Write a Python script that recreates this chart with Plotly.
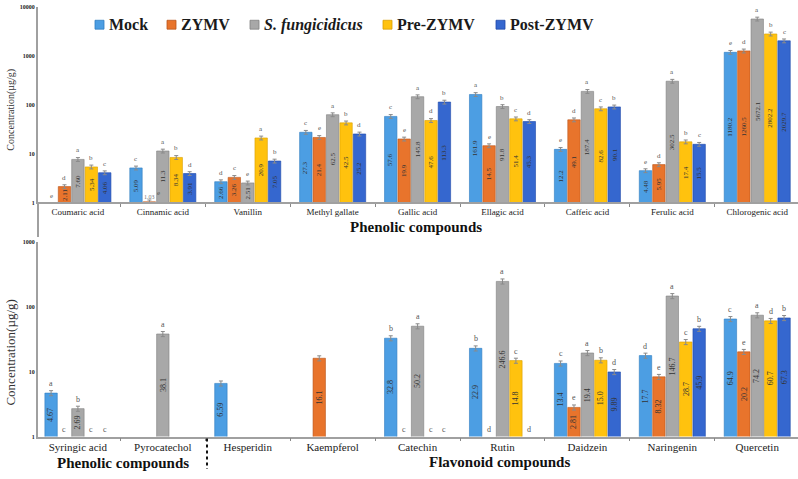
import plotly.graph_objects as go
import math

series = ["Mock", "ZYMV", "<i>S. fungicidicus</i>", "Pre-ZYMV", "Post-ZYMV"]
colors = ["#4C9EE3", "#E8742C", "#A8A8A8", "#FFC20E", "#3567CF"]
edge = ["#2F7CC0", "#B9541A", "#808080", "#D9A000", "#1F48A8"]

top_cats = ["Coumaric acid", "Cinnamic acid", "Vanillin", "Methyl gallate", "Gallic acid",
            "Ellagic acid", "Caffeic acid", "Ferulic acid", "Chlorogenic acid"]
top_vals = [
    [None, 5.09, 2.66, 27.3, 57.6, 161.9, 12.2, 4.48, 1180.2],
    [2.11, 1.03, 3.26, 21.4, 19.9, 14.5, 49.1, 5.95, 1260.5],
    [7.60, 11.3, 2.51, 62.5, 145.8, 91.8, 187.4, 302.5, 5672.1],
    [5.34, 8.34, 20.9, 42.5, 47.6, 51.4, 82.6, 17.4, 2802.2],
    [4.06, 3.91, 7.05, 25.2, 113.3, 45.3, 90.1, 15.5, 2029.7],
]
top_letters = [
    ["e", "c", "d", "c", "c", "a", "e", "e", "e"],
    ["d", "e", "c", "e", "e", "e", "d", "d", "d"],
    ["a", "a", "e", "a", "a", "b", "a", "a", "a"],
    ["b", "b", "a", "b", "d", "c", "c", "b", "b"],
    ["c", "d", "b", "d", "b", "d", "b", "c", "c"],
]

bot_cats = ["Syringic acid", "Pyrocatechol", "Hesperidin", "Kaempferol", "Catechin",
            "Rutin", "Daidzein", "Naringenin", "Quercetin"]
bot_vals = [
    [4.67, None, 6.59, None, 32.8, 22.9, 13.4, 17.7, 64.9],
    [None, None, None, 16.1, None, None, 2.81, 8.32, 20.2],
    [2.69, 38.1, None, None, 50.2, 246.6, 19.4, 146.7, 74.2],
    [None, None, None, None, None, 14.8, 15.0, 28.7, 60.7],
    [None, None, None, None, None, None, 9.89, 45.9, 67.3],
]
bot_letters = [
    ["a", "", "", "", "b", "b", "c", "d", "c"],
    ["c", "", "", "", "c", "d", "e", "e", "e"],
    ["b", "a", "", "", "a", "a", "a", "a", "a"],
    ["c", "", "", "", "c", "c", "b", "c", "d"],
    ["c", "", "", "", "c", "d", "d", "b", "b"],
]

pitch = 0.158
bw = 0.146
serif = "Liberation Serif"

fig = go.Figure()
annotations = []


def fmt(v):
    return f"{v:.2f}" if v < 10 else f"{v:.1f}"


def add_panel(vals, letters, xa, ya, lab_size):
    for j, name in enumerate(series):
        xs = [i + (j - 2) * pitch for i in range(len(vals[j]))]
        fig.add_trace(go.Bar(
            x=xs, y=vals[j], width=bw, name=name, xaxis=xa, yaxis=ya,
            marker=dict(color=colors[j], line=dict(color=edge[j], width=0.6)),
            error_y=dict(type="percent", value=9, color="#8a8a8a", thickness=1, width=2),
            showlegend=False,
        ))
        for i, v in enumerate(vals[j]):
            x = xs[i]
            if letters[j][i]:
                annotations.append(dict(
                    x=x, y=math.log10(v) if v else 0, xref=xa, yref=ya,
                    text=letters[j][i], showarrow=False, xanchor="center", yanchor="bottom",
                    yshift=3 if v else 0, xshift=(9 if (v and v < 1.5) else 0),
                    font=dict(family=serif, size=lab_size, color="#555555")))
            if v:
                if v < 1.5:
                    annotations.append(dict(
                        x=x, y=0, xref=xa, yref=ya, text=fmt(v), showarrow=False,
                        xanchor="center", yanchor="bottom",
                        font=dict(family=serif, size=lab_size - 1, color="#777777")))
                else:
                    annotations.append(dict(
                        x=x, y=math.log10(v) / 2, xref=xa, yref=ya, text=fmt(v),
                        showarrow=False, textangle=-90, xanchor="center", yanchor="middle",
                        font=dict(family=serif, size=lab_size, color="#333333")))


add_panel(top_vals, top_letters, "x", "y", 7)
add_panel(bot_vals, bot_letters, "x2", "y2", 8)

W, H = 798, 479
xdom = [38 / W, 1]


def px(p):
    return p / W


def py(p):
    return 1 - p / H


ax_common = dict(range=[-0.47, 8.48], showline=True, linecolor="#a0a0a0", linewidth=1.5,
                 showgrid=False, zeroline=False, ticks="",
                 minor=dict(tickvals=[k + 0.5 for k in range(8)], ticks="outside",
                            ticklen=3, tickcolor="#888"))
ytick_font = dict(family=serif, size=6, color="#222", weight="bold")
fig.update_layout(
    width=W, height=H,
    margin=dict(l=0, r=0, t=0, b=0),
    plot_bgcolor="white", paper_bgcolor="white",
    barmode="overlay",
    showlegend=False,
    xaxis=dict(domain=xdom, anchor="y", tickvals=list(range(9)), ticktext=top_cats,
               tickfont=dict(family=serif, size=9, color="#222"), **ax_common),
    yaxis=dict(domain=[py(202), py(4)], type="log", range=[0, 4], anchor="x",
               tickvals=[1, 10, 100, 1000, 10000], ticktext=["1", "10", "100", "1000", "10000"],
               tickfont=ytick_font, showline=True, linecolor="#a0a0a0", linewidth=2,
               showgrid=False, ticks=""),
    xaxis2=dict(domain=xdom, anchor="y2", tickvals=list(range(9)), ticktext=bot_cats,
                tickfont=dict(family=serif, size=11, color="#222"), **ax_common),
    yaxis2=dict(domain=[py(439), py(242)], type="log", range=[0, 3], anchor="x2",
                tickvals=[1, 10, 100, 1000], ticktext=["1", "10", "100", "1000"],
                tickfont=ytick_font, showline=True, linecolor="#a0a0a0", linewidth=2,
                showgrid=False, ticks=""),
)

# legend (drawn manually to match the compact original layout)
legend_sq_x = [95, 167, 250, 383, 496]
legend_txt_x = [107, 179, 262, 395, 508]
shapes = []
for j, name in enumerate(series):
    shapes.append(dict(type="rect", xref="paper", yref="paper",
                       x0=px(legend_sq_x[j]), x1=px(legend_sq_x[j] + 9),
                       y0=py(26.5), y1=py(17.5), fillcolor=colors[j],
                       line=dict(color=edge[j], width=0.8)))
    annotations.append(dict(x=px(legend_txt_x[j]), y=py(22), xref="paper", yref="paper",
                            text=f"<b>{name}</b>", showarrow=False, xanchor="left",
                            yanchor="middle",
                            font=dict(family=serif, size=16, color="#1a1a1a")))

annotations += [
    dict(x=px(416), y=py(227), xref="paper", yref="paper", text="<b>Phenolic compounds</b>",
         showarrow=False, xanchor="center", yanchor="middle",
         font=dict(family=serif, size=15, color="#111")),
    dict(x=px(123), y=py(466), xref="paper", yref="paper", text="<b>Phenolic compounds</b>",
         showarrow=False, xanchor="center", yanchor="middle",
         font=dict(family=serif, size=15, color="#111")),
    dict(x=px(499), y=py(465), xref="paper", yref="paper", text="<b>Flavonoid compounds</b>",
         showarrow=False, xanchor="center", yanchor="middle",
         font=dict(family=serif, size=15, color="#111")),
    dict(x=px(11), y=py(108), xref="paper", yref="paper", text="Concentration(µg/g)",
         textangle=-90, showarrow=False, xanchor="center", yanchor="middle",
         font=dict(family=serif, size=10, color="#333")),
    dict(x=px(11), y=py(354), xref="paper", yref="paper", text="Concentration(µg/g)",
         textangle=-90, showarrow=False, xanchor="center", yanchor="middle",
         font=dict(family=serif, size=13, color="#333")),
]

shapes.append(dict(type="line", xref="paper", yref="paper", x0=px(38), x1=px(38),
                   y0=py(202), y1=py(237), line=dict(color="#a0a0a0", width=2)))
shapes.append(dict(type="line", xref="paper", yref="paper", x0=px(207), x1=px(207),
                   y0=py(441), y1=py(472), line=dict(color="#111", width=2, dash="dot")))

fig.update_layout(annotations=annotations, shapes=shapes)

fig.write_html("out.html")
